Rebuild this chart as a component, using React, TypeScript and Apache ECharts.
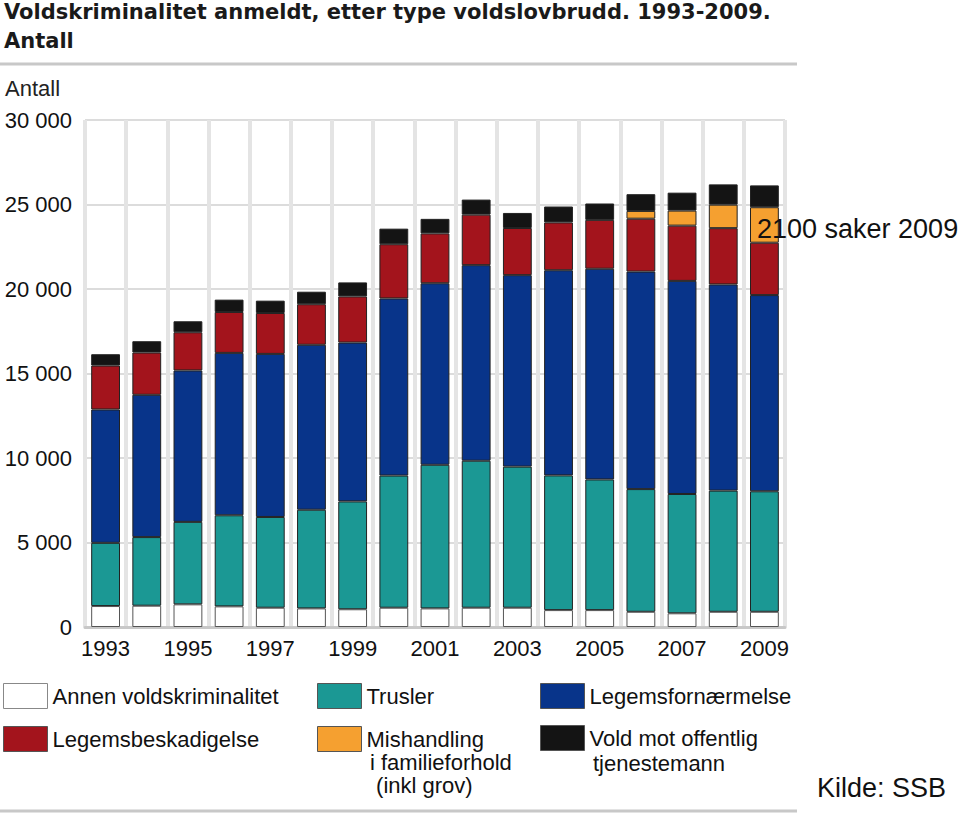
import React, { useEffect, useRef } from 'react';
import * as echarts from 'echarts';

const years = ['1993', '1994', '1995', '1996', '1997', '1998', '1999', '2000', '2001', '2002', '2003', '2004', '2005', '2006', '2007', '2008', '2009'];
const annen = [1240, 1260, 1340, 1220, 1140, 1100, 1050, 1140, 1100, 1140, 1140, 1000, 1000, 900, 810, 900, 900];
const trusler = [3740, 4060, 4880, 5390, 5370, 5840, 6380, 7820, 8500, 8700, 8350, 7970, 7730, 7260, 7060, 7170, 7130];
const legemsfornaermelse = [7890, 8420, 8960, 9610, 9650, 9760, 9400, 10480, 10740, 11570, 11330, 12140, 12470, 12870, 12610, 12200, 11610];
const legemsbeskadigelse = [2600, 2500, 2260, 2420, 2420, 2400, 2730, 3210, 2950, 2990, 2790, 2830, 2890, 3130, 3270, 3330, 3100];
const mishandling = [null, null, null, null, null, null, null, null, null, null, null, null, null, 460, 890, 1390, 2100];
const voldOffentlig = [670, 670, 650, 730, 730, 740, 830, 920, 860, 890, 890, 940, 970, 990, 1060, 1200, 1290];

const seriesNames = ['Annen voldskriminalitet', 'Trusler', 'Legemsfornærmelse', 'Legemsbeskadigelse', 'Mishandling i familieforhold (inkl grov)', 'Vold mot offentlig tjenestemann'];
const seriesColors = ['#ffffff', '#1b9894', '#08348a', '#a3141c', '#f5a030', '#141414'];
const seriesData = [annen, trusler, legemsfornaermelse, legemsbeskadigelse, mishandling, voldOffentlig];

export default function App() {
  const ref = useRef<HTMLDivElement>(null);
  useEffect(() => {
    document.body.style.margin = '0';
    const chart = echarts.init(ref.current!, null, { renderer: 'svg' });
    const font = "'Liberation Sans', Arial, sans-serif";
    const legendPos = [
      { left: 3, top: 683, label: 'Annen voldskriminalitet' },
      { left: 317, top: 683, label: 'Trusler' },
      { left: 540, top: 683, label: 'Legemsfornærmelse' },
      { left: 3, top: 726, label: 'Legemsbeskadigelse' },
      { left: 317, top: 726, label: 'Mishandling' },
      { left: 540, top: 725, label: 'Vold mot offentlig' },
    ];
    const legends = seriesNames.map((n, i) => ({
      show: true,
      data: [n],
      left: legendPos[i].left,
      top: legendPos[i].top,
      padding: 0,
      itemWidth: 44,
      itemHeight: 25,
      selectedMode: false,
      icon: 'rect',
      itemStyle: { borderColor: i === 0 ? '#888' : '#555', borderWidth: 1 },
      formatter: () => legendPos[i].label,
      textStyle: { fontFamily: font, fontSize: 22, color: '#111' },
    }));
    chart.setOption({
      animation: false,
      backgroundColor: '#ffffff',
      title: [
        {
          text: 'Voldskriminalitet anmeldt, etter type voldslovbrudd. 1993-2009.\nAntall',
          left: 4,
          top: -3,
          padding: 0,
          textStyle: { fontFamily: 'DejaVu Sans', fontWeight: 'bold', fontSize: 21, lineHeight: 29, color: '#1a1a1a' },
        },
        {
          text: 'Antall',
          left: 5,
          top: 77,
          padding: 0,
          textStyle: { fontFamily: font, fontWeight: 'normal', fontSize: 22, color: '#222' },
        },
        {
          text: 'Kilde: SSB',
          left: 817,
          top: 774,
          padding: 0,
          textStyle: { fontFamily: font, fontWeight: 'normal', fontSize: 27, color: '#111' },
        },
      ],
      legend: legends,
      grid: { left: 85, right: 175, top: 120, bottom: 187, containLabel: false },
      xAxis: {
        type: 'category',
        data: years,
        boundaryGap: true,
        axisLine: { show: true, lineStyle: { color: '#c8c8c8', width: 3 } },
        axisTick: { show: false },
        axisLabel: { interval: 1, margin: 10, fontFamily: font, fontSize: 22, color: '#111' },
        splitLine: { show: true, interval: 0, lineStyle: { color: '#e4e4e4', width: 4 } },
      },
      yAxis: {
        type: 'value',
        min: 0,
        max: 30000,
        interval: 5000,
        axisLine: { show: false },
        axisTick: { show: false },
        axisLabel: {
          margin: 13,
          fontFamily: font,
          fontSize: 22,
          color: '#111',
          formatter: (v: number) => String(v).replace(/\B(?=(\d{3})+(?!\d))/g, ' '),
        },
        splitLine: { show: true, lineStyle: { color: '#dcdcdc', width: 2 } },
      },
      series: seriesNames.map((n, i) => ({
        name: n,
        type: 'bar',
        stack: 'total',
        barWidth: '70%',
        data: seriesData[i],
        itemStyle: { color: seriesColors[i], borderColor: i === 0 ? '#555' : '#222', borderWidth: 1 },
      })),
      graphic: [
        { type: 'line', shape: { x1: 0, y1: 64, x2: 797, y2: 64 }, style: { stroke: '#c8c8c8', lineWidth: 3 } },
        { type: 'line', shape: { x1: 0, y1: 811, x2: 797, y2: 811 }, style: { stroke: '#c8c8c8', lineWidth: 3 } },
        {
          type: 'text', x: 757, y: 229, z: 100,
          style: { text: '2100 saker 2009', fontFamily: font, fontSize: 27, fill: '#111', verticalAlign: 'middle' },
        },
        {
          type: 'text', x: 370, y: 762,
          style: { text: 'i familieforhold', fontFamily: font, fontSize: 22, fill: '#111', verticalAlign: 'middle' },
        },
        {
          type: 'text', x: 370, y: 785,
          style: { text: ' (inkl grov)', fontFamily: font, fontSize: 22, fill: '#111', verticalAlign: 'middle' },
        },
        {
          type: 'text', x: 593, y: 763,
          style: { text: 'tjenestemann', fontFamily: font, fontSize: 22, fill: '#111', verticalAlign: 'middle' },
        },
      ],
    });
    return () => chart.dispose();
  }, []);
  return <div ref={ref} style={{ width: 960, height: 814 }} />;
}
